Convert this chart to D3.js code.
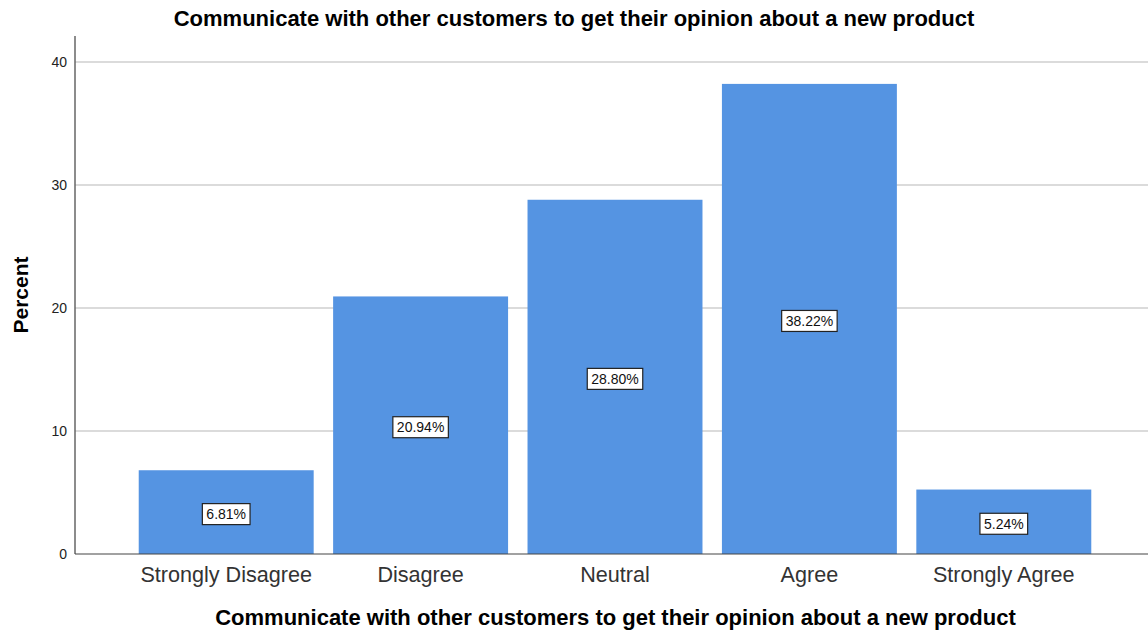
<!DOCTYPE html>
<html><head><meta charset="utf-8">
<script src="https://cdn.jsdelivr.net/npm/d3@7"></script>
<style>body{margin:0;background:#fff}svg{display:block}text{font-family:"Liberation Sans",Arial,sans-serif}</style>
</head><body><svg id="c" width="1148" height="631"></svg>
<script>
const categories = ["Strongly Disagree","Disagree","Neutral","Agree","Strongly Agree"];
const percents = [6.81, 20.94, 28.80, 38.22, 5.24];
const yTicks = [0,10,20,30,40];
const title = "Communicate with other customers to get their opinion about a new product";
const xTitle = "Communicate with other customers to get their opinion about a new product";
const yTitle = "Percent";

(function(){
const svg = d3.select("#c");
const W = 1148;
const pL = 75, pR = 1148, pT = 36, pB = 554;
const x = d3.scaleBand().domain(categories).range([129,1101]).paddingInner(0.1).paddingOuter(0.05);
const y = d3.scaleLinear().domain([0,40]).range([pB, 62]);

// gridlines
svg.append("g").selectAll("line").data(yTicks.filter(d=>d>0)).join("line")
  .attr("x1",pL).attr("x2",pR).attr("y1",d=>y(d)).attr("y2",d=>y(d))
  .attr("stroke","#cfcfcf").attr("stroke-width",1.5);

// bars
svg.append("g").selectAll("rect").data(percents).join("rect")
  .attr("x",(d,i)=>x(categories[i])).attr("width",x.bandwidth())
  .attr("y",d=>y(d)).attr("height",d=>pB-y(d))
  .attr("fill","#5594e2");

// axes
const yAxis = d3.axisLeft(y).tickValues(yTicks).tickSize(0).tickPadding(8).tickFormat(d3.format("d"));
const gy = svg.append("g").attr("transform",`translate(${pL},0)`).call(yAxis);
gy.select(".domain").remove();
gy.selectAll("text").attr("font-size",14).attr("fill","#222").style("font-family","Liberation Sans, Arial, sans-serif");
svg.append("line").attr("x1",pL).attr("x2",pL).attr("y1",pT).attr("y2",pB).attr("stroke","#666").attr("stroke-width",1.5);

const xAxis = d3.axisBottom(x).tickSize(0).tickPadding(13);
const gx = svg.append("g").attr("transform",`translate(0,${pB})`).call(xAxis);
gx.select(".domain").remove();
gx.selectAll("text").attr("font-size",21.6).attr("fill","#333").attr("dy","0.71em").style("font-family","Liberation Sans, Arial, sans-serif");
svg.append("line").attr("x1",pL).attr("x2",pR).attr("y1",pB).attr("y2",pB).attr("stroke","#444").attr("stroke-width",1.2);

// value labels
const lab = svg.append("g").selectAll("g").data(percents).join("g")
  .attr("transform",(d,i)=>`translate(${x(categories[i])+x.bandwidth()/2},${y(d/2)+2})`);
lab.each(function(d){
  const g = d3.select(this);
  const t = g.append("text").text(d.toFixed(2)+"%").attr("text-anchor","middle").attr("dy","0.36em")
    .attr("font-size",14).attr("fill","#111");
  const w = t.node().getComputedTextLength();
  g.insert("rect","text").attr("x",-w/2-4).attr("y",-10.5).attr("width",w+8).attr("height",21)
    .attr("fill","#fff").attr("stroke","#222").attr("stroke-width",1.2);
});

// titles
svg.append("text").attr("x",W/2).attr("y",26).attr("text-anchor","middle").attr("font-weight","bold").attr("font-size",22).attr("fill","#000").text(title);
svg.append("text").attr("x",615.5).attr("y",625).attr("text-anchor","middle").attr("font-weight","bold").attr("font-size",22).attr("fill","#000").text(xTitle);
svg.append("text").attr("transform",`translate(28,${(pT+pB)/2}) rotate(-90)`).attr("text-anchor","middle").attr("font-weight","bold").attr("font-size",21).attr("fill","#000").text(yTitle);
})();
</script></body></html>
